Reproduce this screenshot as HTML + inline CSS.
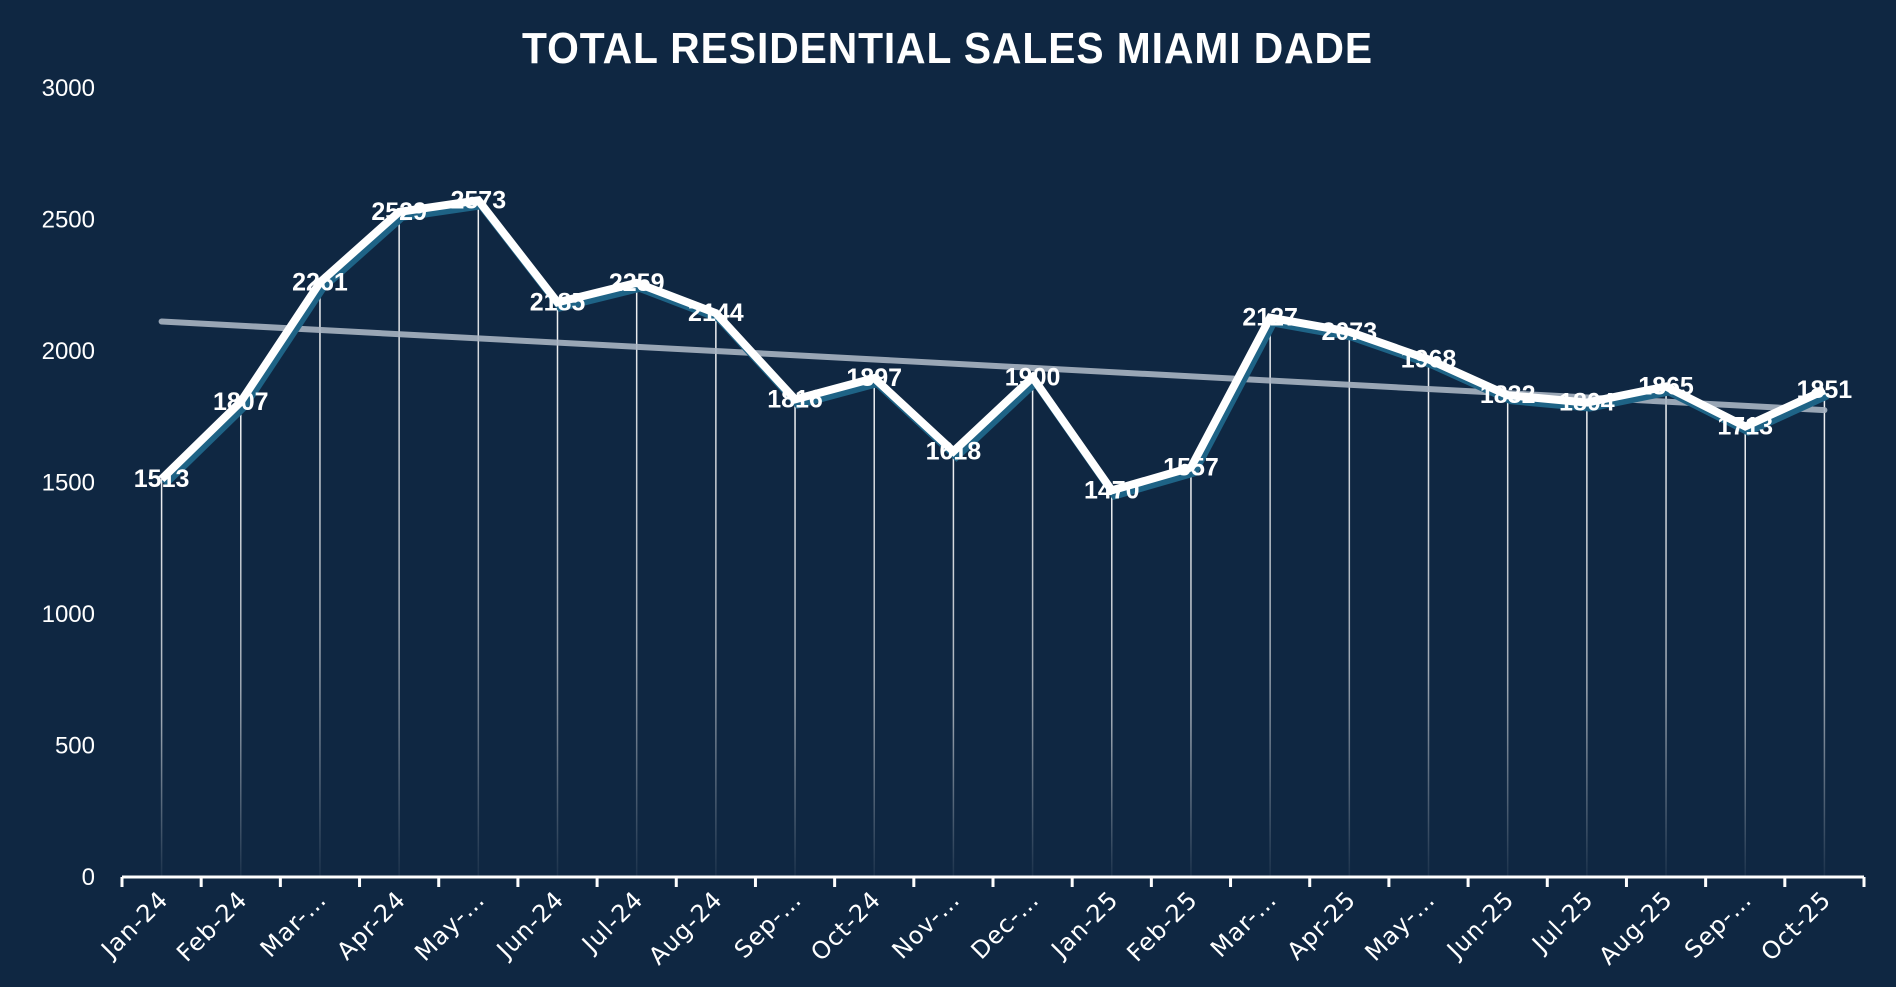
<!DOCTYPE html>
<html><head><meta charset="utf-8"><style>
html,body{margin:0;padding:0;background:#0f2742;}
svg{display:block;font-family:"Liberation Sans",sans-serif;}
</style></head><body>
<svg id="chart" width="1896" height="987" viewBox="0 0 1896 987">
<defs>
<linearGradient id="drop" x1="0" y1="0" x2="0" y2="1">
<stop offset="0" stop-color="#ffffff" stop-opacity="0.95"/>
<stop offset="0.6" stop-color="#ffffff" stop-opacity="0.6"/>
<stop offset="1" stop-color="#ffffff" stop-opacity="0.05"/>
</linearGradient>
</defs>
<rect x="0" y="0" width="1896" height="987" fill="#0f2742"/>
<text x="522" y="63" textLength="851" lengthAdjust="spacingAndGlyphs" fill="#ffffff" font-size="44" font-weight="bold" style="font-family:'Liberation Sans Narrow','Liberation Sans',sans-serif;letter-spacing:1px">TOTAL RESIDENTIAL SALES MIAMI DADE</text>
<g id="yaxis"></g>
<g id="drops"></g>
<g id="trend"></g>
<g id="series"></g>
<g id="labels"></g>
<g id="xaxis"></g>
</svg>
<script>
const categories = ["Jan-24","Feb-24","Mar-…","Apr-24","May-…","Jun-24","Jul-24","Aug-24","Sep-…","Oct-24","Nov-…","Dec-…","Jan-25","Feb-25","Mar-…","Apr-25","May-…","Jun-25","Jul-25","Aug-25","Sep-…","Oct-25"];
const sales = [1513,1807,2261,2529,2573,2185,2259,2144,1816,1897,1618,1900,1470,1557,2127,2073,1968,1832,1804,1865,1713,1851];
const yTicks = [0,500,1000,1500,2000,2500,3000];

const NS="http://www.w3.org/2000/svg";
const X0=122, X1=1864, Y0=877, Y1=88, YMAX=3000;
const bw=(X1-X0)/categories.length;
const xs=i=>X0+bw*(i+0.5);
const ys=v=>Y0-(v/YMAX)*(Y0-Y1);
function mk(tag,attrs,parent){const e=document.createElementNS(NS,tag);for(const k in attrs)e.setAttribute(k,attrs[k]);document.getElementById(parent).appendChild(e);return e;}

yTicks.forEach(t=>{
  const e=mk('text',{x:95,y:ys(t)+8,'text-anchor':'end',fill:'#ffffff','font-size':24},'yaxis');
  
  
  e.textContent=t;
});

sales.forEach((v,i)=>{
  const l=mk('rect',{x:xs(i)-0.75,y:ys(v),width:1.5,height:Y0-ys(v),fill:'url(#drop)'},'drops');
  
  
});

const n=sales.length;let sx=0,sy=0,sxy=0,sxx=0;
sales.forEach((v,i)=>{sx+=i;sy+=v;sxy+=i*v;sxx+=i*i;});
const slope=(n*sxy-sx*sy)/(n*sxx-sx*sx), icpt=(sy-slope*sx)/n;
const tr=mk('line',{x1:xs(0),y1:ys(icpt),x2:xs(n-1),y2:ys(icpt+slope*(n-1)),stroke:'#a9b4c2','stroke-width':6,'stroke-linecap':'round',opacity:0.9},'trend');



const pts=sales.map((v,i)=>xs(i)+','+ys(v)).join(' ');
const sh=mk('polyline',{points:sales.map((v,i)=>(xs(i)+3)+','+(ys(v)+5)).join(' '),fill:'none',stroke:'#1e6386','stroke-width':8,'stroke-linejoin':'miter'},'series');


const ln=mk('polyline',{points:pts,fill:'none',stroke:'#ffffff','stroke-width':8,'stroke-linejoin':'miter'},'series');



sales.forEach((v,i)=>{
  const t=mk('text',{x:xs(i),y:ys(v)+8,'text-anchor':'middle',fill:'#ffffff','font-size':25,'font-weight':'bold'},'labels');
  
  
  t.textContent=v;
});

const ax=mk('line',{x1:X0,y1:Y0,x2:X1,y2:Y0,stroke:'#ffffff','stroke-width':3},'xaxis');


for(let i=0;i<=n;i++){
  const tk=mk('line',{x1:X0+bw*i,y1:Y0,x2:X0+bw*i,y2:Y0+10,stroke:'#ffffff','stroke-width':3},'xaxis');
  
  
}
categories.forEach((c,i)=>{
  const x=xs(i)+8,y=Y0+24;
  const t=mk('text',{x:x,y:y,'text-anchor':'end',fill:'#ffffff','font-size':24,transform:'rotate(-45 '+x+' '+y+')',style:"font-family:'DejaVu Sans','Liberation Sans',sans-serif;letter-spacing:1px"},'xaxis');
  
  
  t.textContent=c;
});
</script>
</body></html>
